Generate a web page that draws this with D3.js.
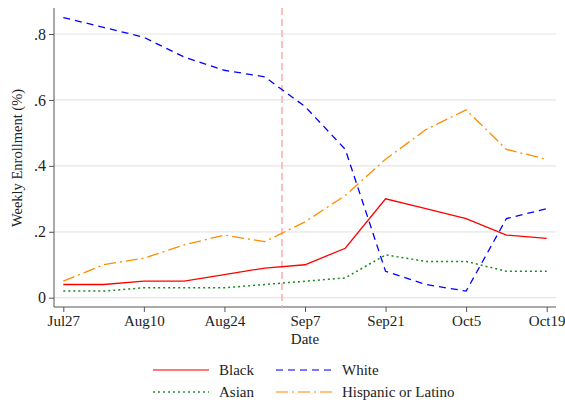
<!DOCTYPE html>
<html><head><meta charset="utf-8">
<script src="https://cdn.jsdelivr.net/npm/d3@7"></script>
<style>body{margin:0;background:#fff}svg{display:block;font-family:"Liberation Serif","Times New Roman",serif}</style>
</head><body><svg id="c" width="565" height="402"></svg>
<script>
const dates = ["2020-07-27","2020-08-03","2020-08-10","2020-08-17","2020-08-24","2020-08-31","2020-09-07","2020-09-14","2020-09-21","2020-09-28","2020-10-05","2020-10-12","2020-10-19"];
const black = [0.04,0.04,0.05,0.05,0.07,0.09,0.10,0.15,0.30,0.27,0.24,0.19,0.18];
const white = [0.85,0.82,0.79,0.73,0.69,0.67,0.58,0.45,0.08,0.04,0.02,0.24,0.27];
const asian = [0.02,0.02,0.03,0.03,0.03,0.04,0.05,0.06,0.13,0.11,0.11,0.08,0.08];
const hispanic = [0.05,0.10,0.12,0.16,0.19,0.17,0.23,0.31,0.42,0.51,0.57,0.45,0.42];
const xTicks = ["2020-07-27","2020-08-10","2020-08-24","2020-09-07","2020-09-21","2020-10-05","2020-10-19"];
const yTicks = [0,0.2,0.4,0.6,0.8];
const markerDate = "2020-09-03";

const parse = d3.utcParse("%Y-%m-%d");
const svg = d3.select("#c");
const x = d3.scaleUtc().domain([parse(dates[0]), parse(dates[dates.length-1])]).range([63.3, 546.7]);
const y = d3.scaleLinear().domain([0,0.8]).range([297.7, 34]);
const L = 54, R = 556, T = 8, B = 307;

// gridlines
svg.append("g").selectAll("line").data(yTicks).join("line")
  .attr("x1", L).attr("x2", R).attr("y1", d=>y(d)).attr("y2", d=>y(d))
  .attr("stroke", "#e6e6e6").attr("stroke-width", 1.2);

// y axis
const fmtY = d => d===0 ? "0" : d3.format(".1f")(d).replace(/^0/,"");
const ya = svg.append("g").attr("transform", `translate(${L},0)`)
  .call(d3.axisLeft(y).tickValues(yTicks).tickFormat(fmtY).tickSize(5).tickSizeOuter(0));
ya.select(".domain").attr("d", `M0,${T}V${B}`).attr("stroke","#555");
ya.selectAll(".tick line").attr("stroke","#555");
ya.selectAll("text").attr("font-size", 16).attr("font-family","Liberation Serif").attr("fill","#222").attr("x",-8);

// x axis
const fmtX = d3.utcFormat("%b%-d");
const xa = svg.append("g").attr("transform", `translate(0,${B})`)
  .call(d3.axisBottom(x).tickValues(xTicks.map(parse)).tickFormat(fmtX).tickSize(5).tickSizeOuter(0));
xa.select(".domain").attr("d", `M${L},0H${R}`).attr("stroke","#555");
xa.selectAll(".tick line").attr("stroke","#555");
xa.selectAll("text").attr("font-size", 15).attr("font-family","Liberation Serif").attr("fill","#222").attr("y",7).attr("dy","0.8em");

// axis titles
svg.append("text").attr("x", x(parse("2020-09-07"))).attr("y", 344).attr("text-anchor","middle")
  .attr("font-size", 15).attr("fill","#222").text("Date");
svg.append("text").attr("transform","translate(22,158) rotate(-90)").attr("text-anchor","middle")
  .attr("font-size", 14.5).attr("fill","#222").text("Weekly Enrollment (%)");

// marker line
svg.append("line").attr("x1", x(parse(markerDate))).attr("x2", x(parse(markerDate)))
  .attr("y1", T).attr("y2", B).attr("stroke","#ffaaaa").attr("stroke-width",1.5).attr("stroke-dasharray","7,4");

const series = [
  {name:"Black", vals:black, color:"#ff0000", dash:null, w:1.3},
  {name:"White", vals:white, color:"#0000ff", dash:"7,5", w:1.3},
  {name:"Asian", vals:asian, color:"#1a8a1a", dash:"2,3", w:1.5},
  {name:"Hispanic or Latino", vals:hispanic, color:"#ff8c00", dash:"12,4,2,4", w:1.3}
];
const line = d3.line().x(d=>x(d[0])).y(d=>y(d[1]));
series.forEach(s=>{
  svg.append("path").datum(dates.map((d,i)=>[parse(d), s.vals[i]]))
    .attr("d", line).attr("fill","none").attr("stroke", s.color).attr("stroke-width", s.w)
    .attr("stroke-dasharray", s.dash);
});

// legend
const legPos = [[153,370],[276,370],[153,392],[276,392]];
series.forEach((s,k)=>{
  const [lx,ly] = legPos[k];
  svg.append("line").attr("x1",lx).attr("x2",lx+56).attr("y1",ly).attr("y2",ly)
    .attr("stroke",s.color).attr("stroke-width",s.w+0.3).attr("stroke-dasharray",s.dash).attr("stroke-opacity",0.7);
  svg.append("text").attr("x",lx+66).attr("y",ly+5).attr("font-size",15).attr("fill","#222").text(s.name);
});
</script></body></html>
